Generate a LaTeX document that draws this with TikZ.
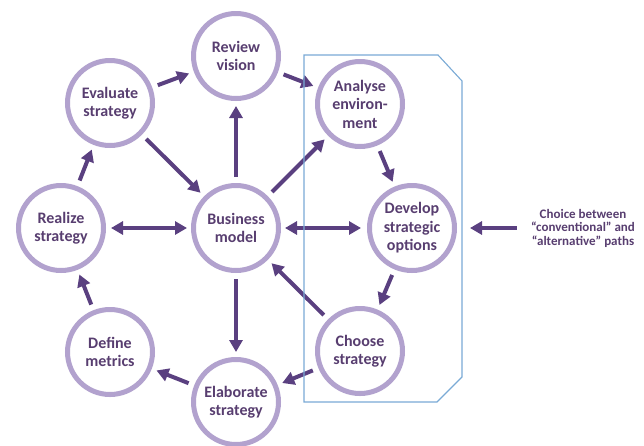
\documentclass[tikz,border=0pt]{standalone}
\usepackage{fontspec}
\setmainfont{Carlito}
\usetikzlibrary{arrows.meta}
\definecolor{ring}{RGB}{178,162,206}
\definecolor{arr}{RGB}{90,64,128}
\definecolor{txt}{RGB}{88,62,112}
\definecolor{boxblue}{RGB}{122,170,214}
\begin{document}
\begin{tikzpicture}[x=1pt,y=-1pt,
  stage/.style={circle,draw=ring,line width=5pt,fill=white,minimum size=85pt,
    inner sep=0pt,outer sep=2.5pt,align=center,text=txt,
    font=\fontsize{16}{18.5}\selectfont\bfseries},
  note/.style={align=center,text=txt,inner sep=0pt,
    font=\fontsize{13}{13.5}\selectfont\bfseries},
  flow/.style={draw=arr,line width=4pt,-{Triangle[length=12pt,width=13pt]},
    shorten <=6pt,shorten >=5pt},
  both/.style={flow,{Triangle[length=12pt,width=13pt]}-{Triangle[length=12pt,width=13pt]}},
  region/.style={draw=boxblue,line width=1.1pt}]
\useasboundingbox (0,0) rectangle (644,445);
\fill[white] (0,0) rectangle (644,445);

\node[stage] (RV) at (236,56) {Review\\vision};
\node[stage] (EV) at (110,103) {Evaluate\\strategy};
\node[stage] (AE) at (360,104) {Analyse\\environ-\\ment};
\node[stage] (RS) at (61,228) {Realize\\strategy};
\node[stage] (BM) at (236,228) {Business\\model};
\node[stage] (DS) at (412,228) {Develop\\strategic\\options};
\node[stage] (DM) at (110,352) {Define\\metrics};
\node[stage] (CS) at (360,351) {Choose\\strategy};
\node[stage] (ES) at (236,402) {Elaborate\\strategy};
\node[note] (CH) at (583,228) {Choice between\\“conventional” and\\“alternative” paths};

% outer cycle
\draw[flow] (EV) -- (RV);
\draw[flow] (RV) -- (AE);
\draw[flow] (AE) -- (DS);
\draw[flow] (DS) -- (CS);
\draw[flow] (CS) -- (ES);
\draw[flow] (ES) -- (DM);
\draw[flow] (DM) -- (RS);
\draw[flow] (RS) -- (EV);
% spokes
\draw[flow] (EV) -- (BM);
\draw[flow] (BM) -- (RV);
\draw[flow] (BM) -- (AE);
\draw[flow] (CS) -- (BM);
\draw[flow] (BM) -- (ES);
\draw[both,shorten <=5pt,shorten >=4pt] (RS) -- (BM);
\draw[both,shorten <=4pt,shorten >=6pt] (BM) -- (DS);
\draw[flow,shorten <=14pt,shorten >=13pt] (CH) -- (DS);

% highlighted region
\coordinate (B1) at (304,55);
\coordinate (B2) at (438,55);
\coordinate (B3) at (462,81);
\coordinate (B4) at (462,377);
\coordinate (B5) at (437,402);
\coordinate (B6) at (304,402);
\draw[region] (B1) -- (B2) -- (B3) -- (B4) -- (B5) -- (B6) -- cycle;
\end{tikzpicture}
\end{document}
